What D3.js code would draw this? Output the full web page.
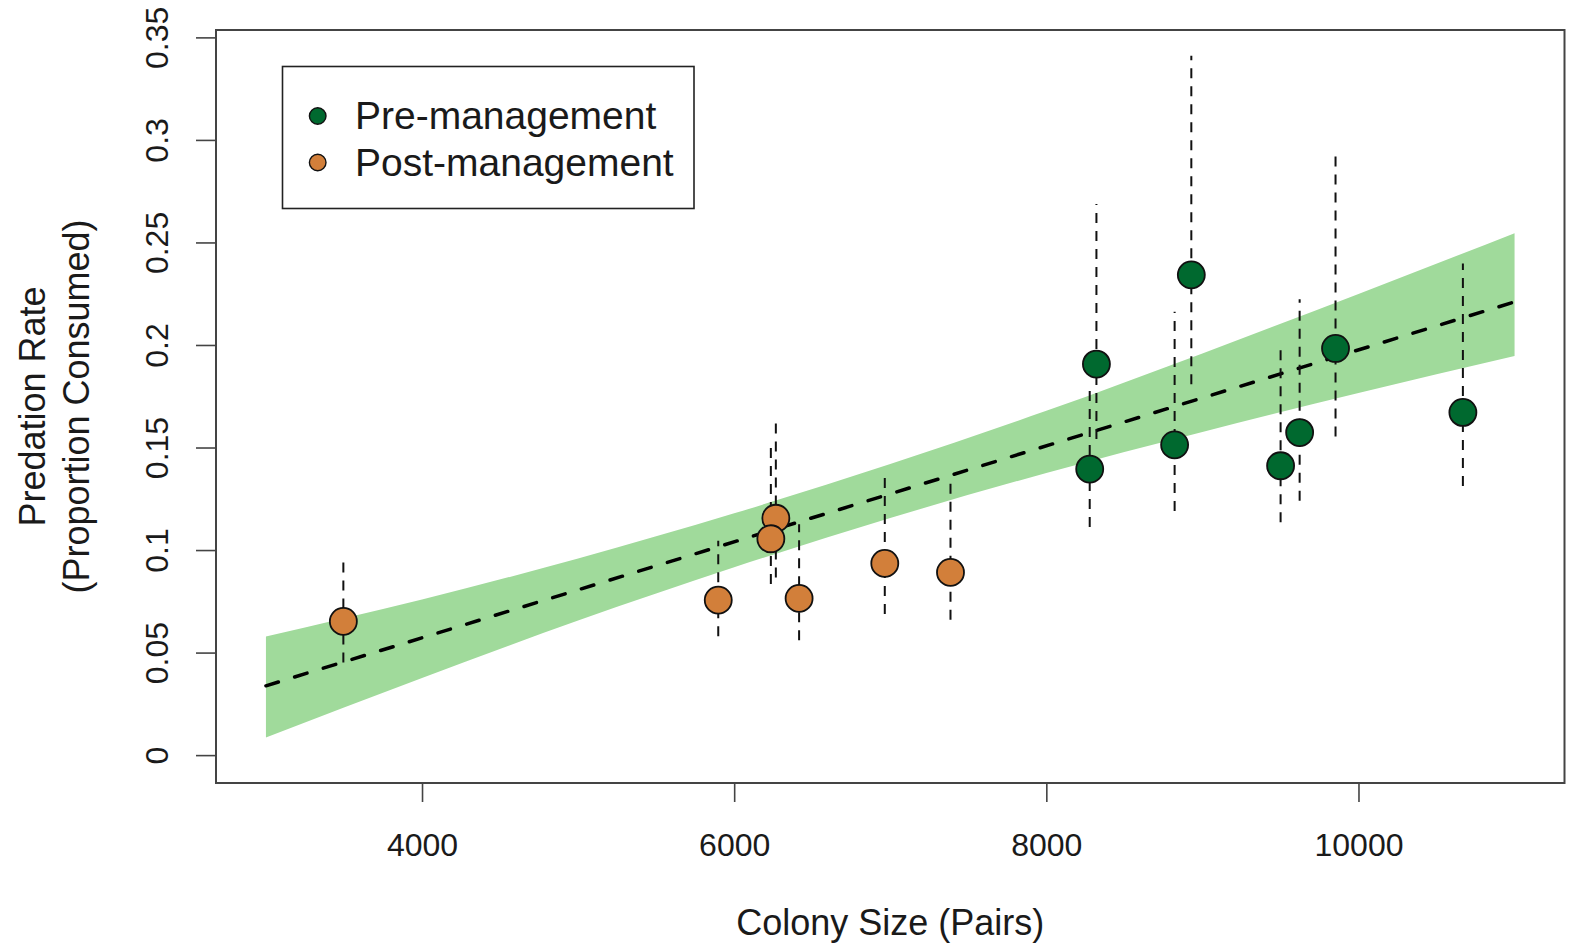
<!DOCTYPE html>
<html>
<head>
<meta charset="utf-8">
<script src="https://cdn.jsdelivr.net/npm/d3@7"></script>
<style>
  body { margin: 0; background: #fff; }
  text { font-family: "Liberation Sans", Arial, sans-serif; fill: #1a1a1a; }
</style>
</head>
<body>
<div id="chart"></div>
<script>
// pre-management colonies
var preX  = [8278, 8321, 8822, 8929, 9501, 9623, 9853, 10669];
var preY  = [0.1395, 0.1907, 0.1513, 0.2342, 0.1411, 0.1573, 0.1983, 0.1671];
var preLo = [0.1112, 0.1541, 0.1191, 0.1809, 0.1135, 0.1240, 0.1554, 0.1312];
var preHi = [0.1794, 0.2687, 0.2162, 0.3410, 0.1983, 0.2223, 0.2922, 0.2397];

// post-management colonies
var postX  = [3496, 5898, 6267, 6235, 6416, 6965, 7386];
var postY  = [0.0652, 0.0756, 0.1155, 0.1055, 0.0764, 0.0935, 0.0891];
var postLo = [0.0452, 0.0580, 0.0866, 0.0834, 0.0560, 0.0688, 0.0660];
var postHi = [0.0940, 0.1045, 0.1647, 0.1508, 0.1126, 0.1365, 0.1330];

// fitted line and confidence band
var fitX = [3000, 11000];
var fitY = [0.0338, 0.2210];
var bandX  = [3000, 4000, 5000, 6000, 7000, 8000, 9000, 10000, 11000];
var bandHi = [0.0579, 0.0759, 0.0959, 0.1179, 0.1419, 0.1679, 0.1959, 0.2249, 0.2545];
var bandLo = [0.0086, 0.0376, 0.0656, 0.0916, 0.1156, 0.1376, 0.1576, 0.1766, 0.1946];

var xTicks = [4000, 6000, 8000, 10000];
var yTicks = [0, 0.05, 0.1, 0.15, 0.2, 0.25, 0.3, 0.35];
var yTickLabels = ["0", "0.05", "0.1", "0.15", "0.2", "0.25", "0.3", "0.35"];
var seriesNames = ["Pre-management", "Post-management"];
var seriesColors = ["#00692f", "#d27f3a"];

var width = 1576, height = 946;
var plotL = 216, plotR = 1564.5, plotT = 30, plotB = 783;

var svg = d3.select("#chart").append("svg")
    .attr("width", width)
    .attr("height", height);

var x = d3.scaleLinear().domain([2680, 11320]).range([plotL, plotR]);
var y = d3.scaleLinear().domain([-0.0136, 0.3536]).range([plotB, plotT]);

// band
var band = bandX.map(function (d, i) { return { x: d, hi: bandHi[i], lo: bandLo[i] }; });
svg.append("path")
    .datum(band)
    .attr("fill", "#a0da9b")
    .attr("d", d3.area()
        .curve(d3.curveMonotoneX)
        .x(d => x(d.x))
        .y0(d => y(d.lo))
        .y1(d => y(d.hi)));

// regression line
svg.append("path")
    .datum(fitX.map((d, i) => [d, fitY[i]]))
    .attr("fill", "none")
    .attr("stroke", "#000")
    .attr("stroke-width", 3.5)
    .attr("stroke-linecap", "round")
    .attr("stroke-dasharray", "13,17")
    .attr("d", d3.line().x(d => x(d[0])).y(d => y(d[1])));

var pre = preX.map((d, i) => ({ x: d, y: preY[i], lo: preLo[i], hi: preHi[i], g: 0 }));
var post = postX.map((d, i) => ({ x: d, y: postY[i], lo: postLo[i], hi: postHi[i], g: 1 }));
var pts = post.concat(pre);

// error bars
svg.append("g").selectAll("line")
    .data(pts)
    .join("line")
    .attr("x1", d => x(d.x))
    .attr("x2", d => x(d.x))
    .attr("y1", d => y(d.lo))
    .attr("y2", d => y(d.hi))
    .attr("stroke", "#111")
    .attr("stroke-width", 2)
    .attr("stroke-dasharray", "10,8");

// points
svg.append("g").selectAll("circle")
    .data(pts)
    .join("circle")
    .attr("cx", d => x(d.x))
    .attr("cy", d => y(d.y))
    .attr("r", 13.5)
    .attr("fill", d => seriesColors[d.g])
    .attr("stroke", "#111")
    .attr("stroke-width", 1.8);

// axes
var xAxis = svg.append("g")
    .attr("transform", "translate(0," + plotB + ")")
    .call(d3.axisBottom(x).tickValues(xTicks).tickSize(19).tickPadding(31).tickFormat(d3.format("d")));
xAxis.select(".domain").remove();
xAxis.selectAll("line").attr("stroke", "#444").attr("stroke-width", 1.6);
xAxis.selectAll("text").attr("font-size", 32).attr("fill", "#1a1a1a")
    .style("font-family", "'Liberation Sans', Arial, sans-serif");

var yAxis = svg.append("g")
    .attr("transform", "translate(" + plotL + ",0)")
    .call(d3.axisLeft(y).tickValues(yTicks).tickSize(20).tickFormat((d, i) => yTickLabels[i]));
yAxis.select(".domain").remove();
yAxis.selectAll("line").attr("stroke", "#444").attr("stroke-width", 1.6);
yAxis.selectAll("text")
    .attr("font-size", 32)
    .attr("fill", "#1a1a1a")
    .style("font-family", "'Liberation Sans', Arial, sans-serif")
    .attr("text-anchor", "middle")
    .attr("transform", "rotate(-90)")
    .attr("x", 0)
    .attr("y", -48)
    .attr("dy", 0);

// box
svg.append("rect")
    .attr("x", plotL)
    .attr("y", plotT)
    .attr("width", plotR - plotL)
    .attr("height", plotB - plotT)
    .attr("fill", "none")
    .attr("stroke", "#444")
    .attr("stroke-width", 2);

// axis titles
svg.append("text")
    .attr("x", (plotL + plotR) / 2)
    .attr("y", 935)
    .attr("text-anchor", "middle")
    .attr("font-size", 36)
    .text("Colony Size (Pairs)");

var cy = (plotT + plotB) / 2;
svg.append("text")
    .attr("transform", "translate(45," + cy + ") rotate(-90)")
    .attr("text-anchor", "middle")
    .attr("font-size", 36)
    .text("Predation Rate");
svg.append("text")
    .attr("transform", "translate(89," + cy + ") rotate(-90)")
    .attr("text-anchor", "middle")
    .attr("font-size", 36)
    .text("(Proportion Consumed)");

// legend
var legend = svg.append("g");
legend.append("rect")
    .attr("x", 282.5)
    .attr("y", 66.5)
    .attr("width", 411.5)
    .attr("height", 142)
    .attr("fill", "#fff")
    .attr("stroke", "#222")
    .attr("stroke-width", 1.6);
var items = legend.selectAll("g.item")
    .data(seriesNames)
    .join("g")
    .attr("class", "item")
    .attr("transform", (d, i) => "translate(0," + (116 + i * 46.5) + ")");
items.append("circle")
    .attr("cx", 317.7)
    .attr("cy", 0)
    .attr("r", 8.3)
    .attr("fill", (d, i) => seriesColors[i])
    .attr("stroke", "#111")
    .attr("stroke-width", 1.4);
items.append("text")
    .attr("x", 355)
    .attr("y", 13.2)
    .attr("font-size", 39)
    .text(d => d);
</script>
</body>
</html>
